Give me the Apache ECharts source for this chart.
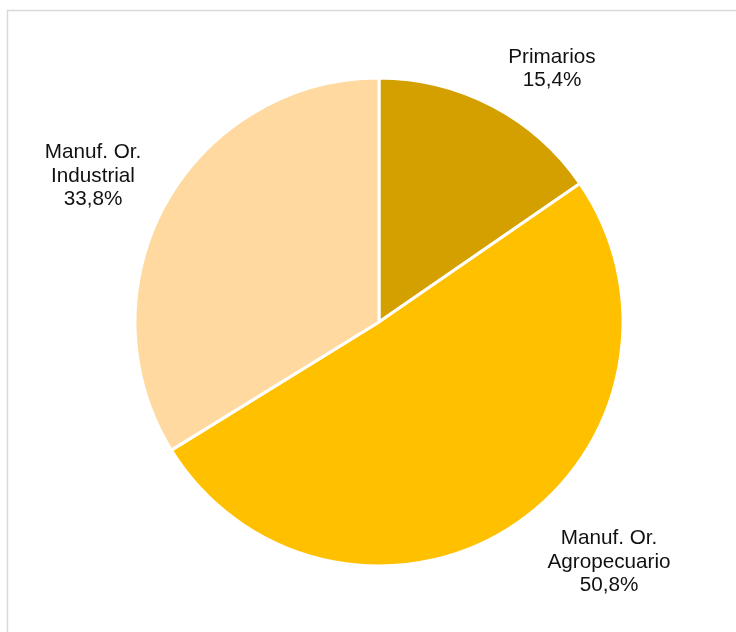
<!DOCTYPE html>
<html>
<head>
<meta charset="utf-8">
<script src="https://cdn.jsdelivr.net/npm/echarts@6/dist/echarts.min.js"></script>
<style>
html,body{margin:0;padding:0;background:#fff;}
#chart{width:736px;height:632px;}
</style>
</head>
<body>
<div id="chart"></div>
<script>
const categories = ['Primarios', 'Manuf. Or.\nAgropecuario', 'Manuf. Or.\nIndustrial'];
const values = [15.4, 50.8, 33.8];
const colors = ['#D4A000', '#FFC000', '#FFD99F'];
const labelPos = [[552, 69], [609, 562], [93, 176]];

const chart = echarts.init(document.getElementById('chart'), null, {renderer: 'canvas'});
chart.setOption({
  backgroundColor: '#fff',
  animation: false,
  graphic: [{
    type: 'rect',
    shape: {x: 7.5, y: 10.5, width: 800, height: 700},
    style: {fill: 'none', stroke: '#d9d9d9', lineWidth: 1.5},
    silent: true
  }],
  series: [{
    type: 'pie',
    center: [379, 322],
    radius: [0, 244],
    startAngle: 90,
    clockwise: true,
    itemStyle: {borderColor: '#fff', borderWidth: 3},
    label: {
      show: true,
      position: 'outside',
      fontFamily: 'Liberation Sans, Arial, sans-serif',
      fontSize: 20.7,
      lineHeight: 23.5,
      color: '#111',
      align: 'center',
      formatter: p => p.name + '\n' + p.value.toFixed(1).replace('.', ',') + '%'
    },
    labelLine: {show: false},
    labelLayout: p => ({x: labelPos[p.dataIndex][0], y: labelPos[p.dataIndex][1], align: 'center', verticalAlign: 'middle'}),
    data: categories.map((c, i) => ({name: c, value: values[i], itemStyle: {color: colors[i]}}))
  }]
});
</script>
</body>
</html>
